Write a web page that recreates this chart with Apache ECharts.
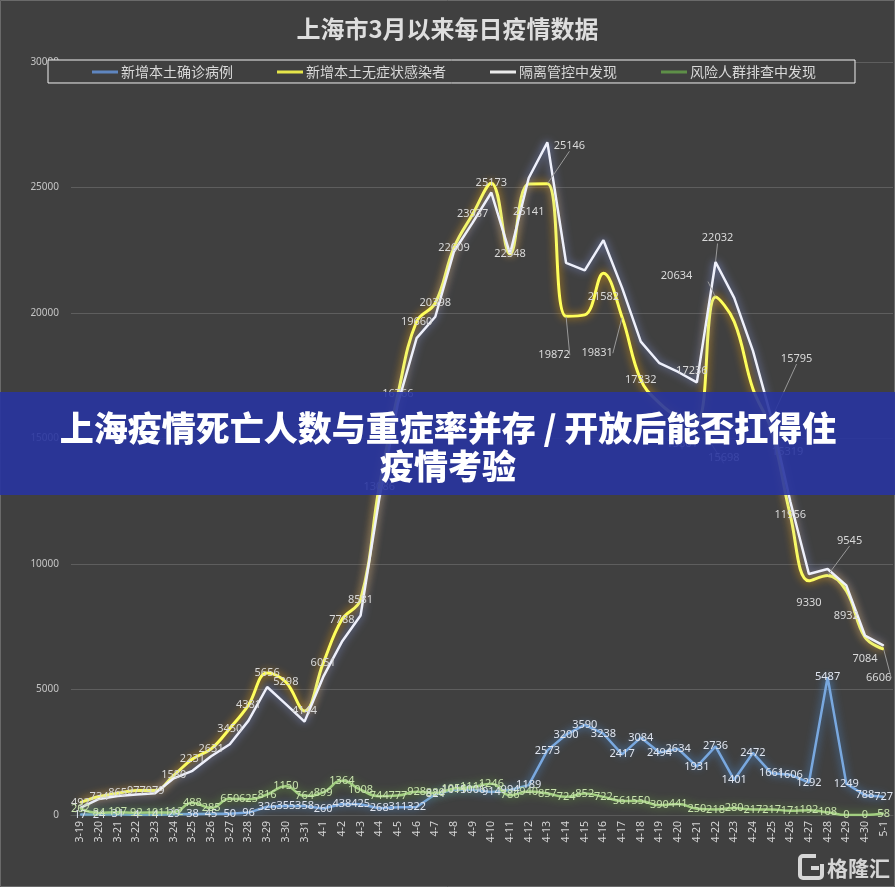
<!DOCTYPE html>
<html><head><meta charset="utf-8">
<script src="https://cdn.jsdelivr.net/npm/echarts/dist/echarts.min.js"></script>
<style>html,body{margin:0;padding:0;background:#404040}#c{width:895px;height:887px}</style>
</head><body><div id="c"></div>
<script>
const categories = ['3-19','3-20','3-21','3-22','3-23','3-24','3-25','3-26','3-27','3-28','3-29','3-30','3-31',
  '4-1','4-2','4-3','4-4','4-5','4-6','4-7','4-8','4-9','4-10','4-11','4-12','4-13','4-14','4-15','4-16','4-17','4-18','4-19','4-20',
  '4-21','4-22','4-23','4-24','4-25','4-26','4-27','4-28','4-29','4-30','5-1'];
const confirmed = [17,24,31,4,4,29,38,45,50,96,326,355,358,
  260,438,425,268,311,322,824,1015,1006,914,994,1189,2573,3200,3590,3238,2417,3084,2494,2634,
  1931,2736,1401,2472,1661,1606,1292,5487,1249,788,727];
const asymptomatic = [492,734,865,977,979,1580,2231,2631,3450,4381,5656,5298,4144,
  6051,7788,8581,13086,16766,19660,20398,22609,23937,25173,22348,25141,25146,19872,19923,21582,19831,17332,16407,15861,
  15698,20634,19657,16983,15319,11956,9330,9545,8932,7084,6606];
const quarantine = [280,640,760,820,870,1460,1760,2340,2820,3760,5100,4420,3720,
  5500,6900,7950,12600,16400,19000,19850,22450,23600,24800,22360,25380,26800,22000,21700,22900,21000,18860,18000,17650,
  17236,22032,20600,18500,15795,12500,9600,9800,9150,7150,6750];
const screening = [262,84,107,92,101,112,488,285,650,625,816,1150,764,
  899,1364,1008,744,777,928,880,1054,1111,1246,786,940,857,724,852,722,561,550,390,441,
  250,218,280,217,217,171,192,108,0,0,58];
const yTicks = [0,5000,10000,15000,20000,25000,30000];
const seriesNames = ['新增本土确诊病例','新增本土无症状感染者','隔离管控中发现','风险人群排查中发现'];

// label placement tweaks (style only)
const yellowLabelTweaks = {24:[0,28],25:[22,-38,1],26:[-12,39,1],28:[0,24],29:[-25,36,1],32:[4,27,1],33:[27,37,1],
  34:[-39,-21,1],37:[16,21],39:[0,22],40:[22,-35,1],41:[0,25],42:[0,22],43:[-5,29,1]};
const yellowHidden = {27:1,31:1,35:1,36:1};
const whiteLabels = {33:[-5,-12],34:[2,-24,1],37:[25,-60,1]};

function yellowData(){
  return asymptomatic.map((v,i)=>{
    const it = {value:v};
    if (yellowHidden[i]) it.label = {show:false};
    else if (yellowLabelTweaks[i]) {
      const t = yellowLabelTweaks[i];
      it.label = {show:true, offset:[t[0],t[1]]};
      if (t[2]) it.labelLine = {show:true, lineStyle:{color:'#9a9a9a',width:1}};
    }
    return it;
  });
}
function whiteData(){
  return quarantine.map((v,i)=>{
    const it = {value:v};
    if (whiteLabels[i]) {
      const t = whiteLabels[i];
      it.label = {show:true, offset:[t[0],t[1]]};
      if (t[2]) it.labelLine = {show:true, lineStyle:{color:'#9a9a9a',width:1}};
    }
    return it;
  });
}
const lblFont = '"Noto Sans", "Noto Sans CJK SC", sans-serif';
const sym = {showSymbol:true, symbol:'circle', symbolSize:1};
const chart = echarts.init(document.getElementById('c'), null, {renderer:'canvas'});
chart.setOption({
  animation:false,
  backgroundColor:'#404040',
  title:{text:'上海市3月以来每日疫情数据', left:'center', top:12,
    textStyle:{color:'#dedede', fontSize:24, fontWeight:'bold', fontFamily:'"Noto Sans CJK SC", sans-serif'}},
  legend:{left:48, top:60, backgroundColor:'#404040', borderColor:'#f0f0f0', borderWidth:1, borderRadius:0,
    padding:[5,39,4,44], itemGap:44, itemWidth:26, itemHeight:3, icon:'rect',
    textStyle:{color:'#d9d9d9', fontSize:14, fontFamily:'"Noto Sans CJK SC", sans-serif', padding:[0,0,0,-2]},
    data:[
      {name:seriesNames[0], itemStyle:{color:'#5f86c0', opacity:1}},
      {name:seriesNames[1], itemStyle:{color:'#e6e64a', opacity:1}},
      {name:seriesNames[2], itemStyle:{color:'#ececec', opacity:1}},
      {name:seriesNames[3], itemStyle:{color:'#5e8f48', opacity:1}}
    ]},
  grid:{left:71, right:2, top:62, bottom:72},
  xAxis:{type:'category', data:categories, boundaryGap:true,
    axisLine:{lineStyle:{color:'#5a5a5a'}}, axisTick:{show:false},
    axisLabel:{rotate:90, interval:0, color:'#d4d4d4', fontSize:10.5, margin:6, fontFamily:lblFont}},
  yAxis:{type:'value', min:yTicks[0], max:yTicks[yTicks.length-1], interval:yTicks[1]-yTicks[0],
    axisLine:{show:false}, axisTick:{show:false},
    axisLabel:{color:'#c4c4c4', fontSize:10, margin:12, fontFamily:lblFont, formatter:(v)=>String(v)},
    splitLine:{lineStyle:{color:'#5e5e5e', width:1}}},
  series:[
    Object.assign({name:seriesNames[0], type:'line', data:confirmed, smooth:false,
      lineStyle:{color:'#79a8df', width:2.5, shadowColor:'rgba(80,150,230,0.9)', shadowBlur:8},
      itemStyle:{color:'#79a8df'},
      label:{show:true, position:'inside', color:'#dfe4ee', fontSize:11, fontFamily:lblFont}}, sym),
    Object.assign({name:seriesNames[1], type:'line', data:yellowData(), smooth:0.4,
      lineStyle:{color:'#ffff5a', width:3, shadowColor:'rgba(255,170,0,0.9)', shadowBlur:9},
      itemStyle:{color:'#ffff5a'},
      label:{show:true, position:'inside', color:'#d9d9d9', fontSize:11, fontFamily:lblFont}}, sym),
    Object.assign({name:seriesNames[2], type:'line', data:whiteData(), smooth:false,
      lineStyle:{color:'#eef0fb', width:2.5, shadowColor:'rgba(150,170,255,0.8)', shadowBlur:8},
      itemStyle:{color:'#eef0fb'},
      label:{show:false, position:'inside', color:'#d9d9d9', fontSize:11, fontFamily:lblFont}}, sym),
    Object.assign({name:seriesNames[3], type:'line', data:screening, smooth:true,
      lineStyle:{color:'#a2cf80', width:2.5, shadowColor:'rgba(110,180,60,0.9)', shadowBlur:10},
      itemStyle:{color:'#a2cf80'},
      label:{show:true, position:'inside', color:'#c8e2ad', fontSize:11, fontFamily:lblFont}}, sym)
  ],
  graphic:[
    {type:'rect', z:100, shape:{x:0, y:392, width:895, height:103}, style:{fill:'rgba(40,52,160,0.9)'}},
    {type:'text', z:101, x:448, y:428, style:{text:'上海疫情死亡人数与重症率并存 / 开放后能否扛得住',
      font:'900 34px "Noto Sans CJK SC", sans-serif', fill:'#ffffff', textAlign:'center', textVerticalAlign:'middle'}},
    {type:'text', z:101, x:448, y:466, style:{text:'疫情考验',
      font:'900 34px "Noto Sans CJK SC", sans-serif', fill:'#ffffff', textAlign:'center', textVerticalAlign:'middle'}},
    {type:'rect', z:101, shape:{x:800, y:856, width:22, height:22, r:3}, style:{fill:'none', stroke:'#d6d6d6', lineWidth:4}},
    {type:'rect', z:102, shape:{x:811, y:866, width:8, height:4}, style:{fill:'#d6d6d6'}},
    {type:'rect', z:102, shape:{x:816, y:853, width:9, height:11}, style:{fill:'#404040'}},
    {type:'text', z:101, x:827, y:868, style:{text:'格隆汇', font:'bold 21px "Noto Sans CJK SC", sans-serif',
      fill:'#d6d6d6', textVerticalAlign:'middle'}},
    {type:'rect', z:0, shape:{x:0.5, y:0.5, width:894, height:886}, style:{fill:'none', stroke:'#6a6a6a', lineWidth:1}}
  ]
});
</script></body></html>
